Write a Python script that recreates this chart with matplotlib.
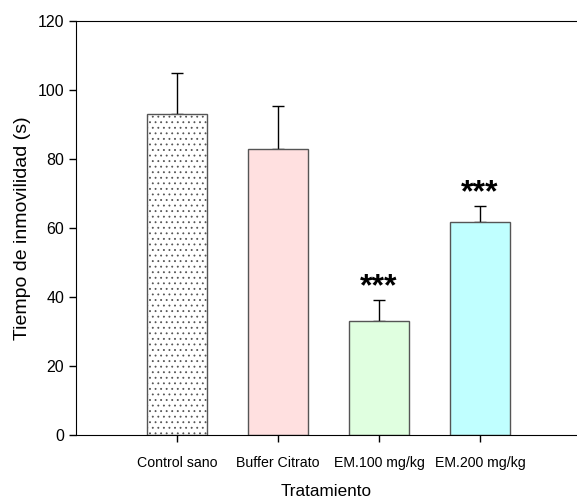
import matplotlib
matplotlib.use('Agg')
import matplotlib.pyplot as plt

plt.rcParams['font.family'] = ['Liberation Sans', 'DejaVu Sans']
plt.rcParams['hatch.linewidth'] = 0.6

groups = ['Control sano', 'Buffer Citrato', 'EM.100 mg/kg', 'EM.200 mg/kg']
means = [93.0, 83.0, 33.0, 61.8]
errs = [12.0, 12.4, 6.2, 4.7]
sig = ['', '', '***', '***']
colors = ['white', '#ffe0e0', '#e0ffe0', '#c0ffff']

fig = plt.figure(figsize=(5.77, 5.0), dpi=100)
ax = fig.add_axes([0.1317, 0.13, 0.8683, 0.828])

x = list(range(len(groups)))
bars = ax.bar(x, means, width=0.6, color=colors, edgecolor='#555555',
              linewidth=1.0, zorder=2)
bars[0].set_hatch('...')
ax.errorbar(x, means, yerr=[[0] * len(errs), errs], fmt='none',
            ecolor='black', elinewidth=1.0, capsize=4, capthick=1.0, zorder=1)

for xi, m, e, s in zip(x, means, errs, sig):
    if s:
        ax.text(xi, m + e + 1.2, s, ha='center', va='baseline',
                fontsize=23, fontweight='bold')

ax.set_xlim(-1.0, 3.96)
ax.set_ylim(0, 120)
ax.set_yticks(range(0, 121, 20))
ax.set_xticks(x)
ax.set_xticklabels(groups, fontsize=10.2)
ax.tick_params(axis='y', labelsize=11.5, direction='out', length=5, width=1)
ax.tick_params(axis='x', direction='out', length=5, width=1, pad=10)
ax.spines['right'].set_visible(False)
ax.set_xlabel('Tratamiento', fontsize=12.3, labelpad=10)
ax.set_ylabel('Tiempo de inmovilidad (s)', fontsize=14, labelpad=5)

fig.savefig('out.png', dpi=100)
